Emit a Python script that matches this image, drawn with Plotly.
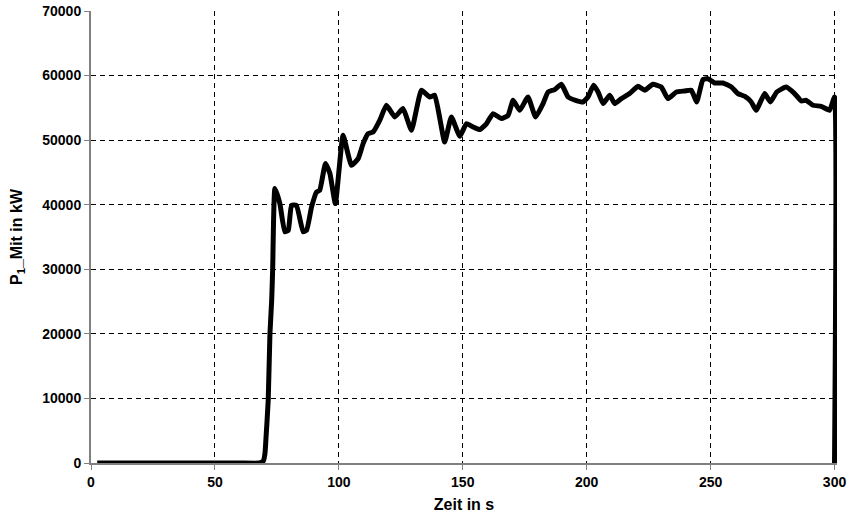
import plotly.graph_objects as go

zeit = [2.5, 20, 40, 60, 68, 69.5, 70.2, 70.6, 71.5, 72.2, 72.9, 73.3, 74.2,
        76.2, 78.2, 79.6, 80.9, 82.9, 85.6, 87.0, 89.0, 91.0, 92.3, 94.6, 96.4, 98.6,
        101.7, 105.1, 107.8, 109.8, 111.8, 113.8, 116.5, 119.2, 122.6, 125.9, 129.3,
        133.3, 136.7, 138.7, 142.7, 145.4, 148.8, 151.5, 154.2, 156.9, 159.6, 162.2,
        165.6, 168.3, 170.3, 173.0, 176.3, 179.4, 182.4, 184.4, 187.1, 189.8, 192.5,
        195.5, 198.5, 200.5, 202.8, 204.6, 206.6, 209.3, 211.3, 214.0, 217.3, 220.7,
        223.4, 226.7, 230.1, 232.8, 236.2, 239.5, 242.2, 244.4, 246.9, 248.9, 251.6,
        255.0, 258.4, 261.0, 263.7, 266.4, 268.4, 271.8, 274.1, 276.7, 280.5, 283.9,
        286.6, 288.6, 291.3, 294.6, 298.0, 300.0, 300.0]
leistung = [0, 0, 0, 0, 0, 300, 1500, 3800, 9700, 20000, 25200, 30000, 42500,
            40170, 35800, 36040, 39900, 39900, 35800, 36040, 39650, 41970, 42240, 46400, 44820, 40170,
            50750, 46100, 47140, 49460, 51010, 51260, 53070, 55400, 53590, 54890, 51530,
            57720, 56680, 56950, 49710, 53590, 50600, 52560, 52040, 51630, 52560, 54110,
            53340, 53850, 56170, 54620, 56680, 53590, 55660, 57460, 57830, 58650, 56680,
            56170, 55910, 56680, 58500, 57460, 55660, 56950, 55660, 56430, 57210, 58340,
            57720, 58650, 58230, 56430, 57460, 57610, 57720, 55910, 59370, 59530, 58850,
            58850, 58230, 57210, 56800, 55910, 54620, 57210, 55910, 57460, 58230, 57210,
            56060, 56170, 55400, 55240, 54620, 56680, 0]

x_ticks = [0, 50, 100, 150, 200, 250, 300]
y_ticks = [0, 10000, 20000, 30000, 40000, 50000, 60000, 70000]

fig = go.Figure()
fig.add_trace(go.Scatter(x=zeit, y=leistung, mode="lines",
                         line=dict(color="black", width=5, shape="spline", smoothing=0.4),
                         showlegend=False))

fam = "Liberation Sans, Arial, sans-serif"
tick_font = dict(family=fam, size=14, color="black", weight="bold")
title_font = dict(family=fam, size=16, color="black", weight="bold")

fig.update_layout(
    width=855, height=519,
    margin=dict(l=91, r=17.5, t=11, b=56),
    paper_bgcolor="white", plot_bgcolor="white",
    font=tick_font,
)
fig.update_xaxes(
    range=[0, 301], tickvals=x_ticks, ticktext=[str(v) for v in x_ticks],
    showline=True, linecolor="#808080", linewidth=2,
    ticks="outside", ticklen=5, tickcolor="#808080", tickwidth=1,
    showgrid=True, gridcolor="black", gridwidth=1, griddash="5px,4px",
    zeroline=False, tickfont=tick_font, automargin=False,
    title=dict(text="Zeit in s", font=title_font, standoff=10),
)
fig.update_yaxes(
    range=[0, 70000], tickvals=y_ticks, ticktext=[str(v) for v in y_ticks],
    showline=True, linecolor="#808080", linewidth=2,
    ticks="outside", ticklen=5, tickcolor="#808080", tickwidth=1,
    showgrid=True, gridcolor="black", gridwidth=1, griddash="5px,4px",
    zeroline=False, tickfont=tick_font, automargin=False,
    title=dict(text="P<sub>1</sub>_Mit in kW", font=title_font, standoff=16),
)
fig.write_html("out.html", config={"displayModeBar": False},
               post_script="document.body.style.margin='0px';")
